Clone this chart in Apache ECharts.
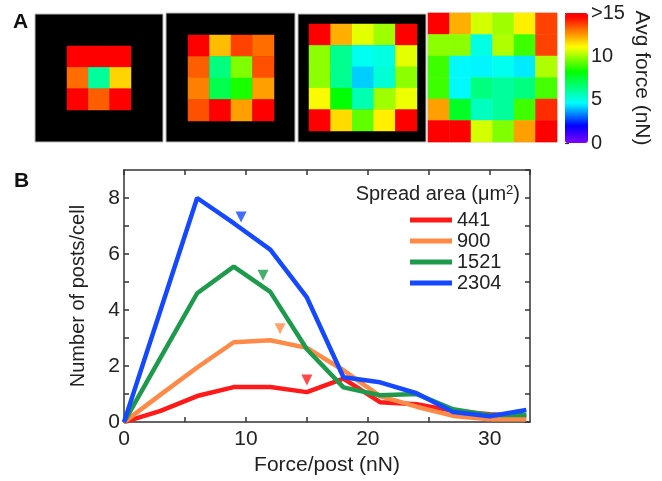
<!DOCTYPE html>
<html>
<head>
<meta charset="utf-8">
<script src="https://cdn.jsdelivr.net/npm/echarts@6/dist/echarts.min.js"></script>
<style>
html,body{margin:0;padding:0;background:#fff;}
#chart{width:662px;height:481px;}
</style>
</head>
<body>
<div id="chart"></div>
<script>
// panel A: average force per post (nN), rows listed top to bottom
var map441 = [
    [15, 15, 15],
    [13.1, 6.0, 11.7],
    [15, 13.3, 15]
];
var map900 = [
    [15, 12.0, 13.7, 13.1],
    [13.3, 6.4, 9.65, 13.5],
    [12.85, 7.1, 8.5, 12.4],
    [13.5, 15, 12.4, 15]
];
var map1521 = [
    [15, 12.2, 10.8, 10.0, 15],
    [9.8, 6.2, 4.8, 5.0, 10.8],
    [9.8, 6.2, 4.1, 5.2, 9.8],
    [11.1, 8.2, 5.7, 10.0, 10.9],
    [15, 11.6, 9.3, 11.3, 15]
];
var map2304 = [
    [15, 12.2, 10.6, 10.0, 11.3, 13.7],
    [9.8, 9.8, 5.0, 10.2, 8.9, 13.7],
    [8.9, 4.6, 4.5, 4.8, 4.4, 10.2],
    [8.9, 4.6, 6.4, 6.0, 6.4, 9.0],
    [12.4, 7.7, 5.5, 6.0, 8.9, 14.0],
    [15, 15, 10.6, 9.65, 12.4, 15]
];
var colorTicks = [0, 5, 10, 15];

// panel B: number of posts per cell vs force per post
var areaNames = ['441', '900', '1521', '2304'];
var forceX = [0, 3, 6, 9, 12, 15, 18, 21, 24, 27, 30, 33];
var posts441 = [0, 0.4, 0.93, 1.25, 1.25, 1.07, 1.55, 0.71, 0.64, 0.4, 0.28, 0.2];
var posts900 = [0, 0.98, 1.95, 2.85, 2.92, 2.65, 1.85, 0.93, 0.55, 0.22, 0.1, 0.1];
var posts1521 = [0, 2.3, 4.6, 5.55, 4.65, 2.6, 1.24, 0.96, 1.0, 0.46, 0.25, 0.25];
var posts2304 = [0, 4.0, 8.0, 7.1, 6.16, 4.45, 1.6, 1.42, 1.03, 0.36, 0.21, 0.43];
// mean force markers (triangles)
var meanForce = [15.0, 12.8, 11.4, 9.6];
var meanLevel = [1.5, 3.33, 5.24, 7.32];

var lineColors = ['#ff1a1a', '#ff8a47', '#1d9a4c', '#1449ff'];

var myChart = echarts.init(document.getElementById('chart'));
var font = 'Liberation Sans, Arial, sans-serif';

// jet-like colour scale of the colour bar
var barStops = [[0,[128,0,255]],[2,[0,0,255]],[4.6,[0,255,255]],[8.2,[0,255,0]],[11.1,[255,255,0]],[14.6,[255,0,0]],[15,[255,0,0]]];
function scaleColor(v){
    for (var i = 1; i < barStops.length; i++) {
        if (v <= barStops[i][0]) {
            var a = barStops[i-1], b = barStops[i];
            var t = (v - a[0]) / (b[0] - a[0]);
            var c = a[1].map(function(x, k){ return Math.round(x + (b[1][k] - x) * t); });
            return 'rgb(' + c.join(',') + ')';
        }
    }
    return 'rgb(255,0,0)';
}
var scaleColors = [];
for (var s = 0; s <= 60; s++) scaleColors.push(scaleColor(s * 0.25));

function heatData(m){
    var d = [];
    m.forEach(function(row, r){
        row.forEach(function(v, c){ d.push([c, r, v]); });
    });
    return d;
}
function cats(n){
    var a = [];
    for (var i = 0; i < n; i++) a.push(i);
    return a;
}

var grids = [
    {left: 35, top: 14, width: 128, height: 128, show: true, backgroundColor: '#000', borderColor: '#bbb', borderWidth: 1},
    {left: 67, top: 46, width: 64, height: 64},
    {left: 166, top: 13, width: 129, height: 129, show: true, backgroundColor: '#000', borderColor: '#bbb', borderWidth: 1},
    {left: 188, top: 35, width: 86, height: 86},
    {left: 298, top: 14, width: 128, height: 128, show: true, backgroundColor: '#000', borderColor: '#bbb', borderWidth: 1},
    {left: 309, top: 24, width: 108, height: 107},
    {left: 428, top: 13, width: 129, height: 129, show: true, borderColor: '#ccc', borderWidth: 1},
    {left: 565, top: 13, width: 23, height: 130},
    {left: 124, top: 170, width: 406, height: 253}
];

var maps = [map441, map900, map1521, map2304];
var heatGrid = [1, 3, 5, 6];
var xAxes = [], yAxes = [];
for (var g = 0; g < 8; g++) {
    var hi = heatGrid.indexOf(g);
    if (hi >= 0) {
        var n = maps[hi].length;
        xAxes.push({gridIndex: g, type: 'category', data: cats(n), show: false});
        yAxes.push({gridIndex: g, type: 'category', data: cats(n), inverse: true, show: false});
    } else {
        xAxes.push({gridIndex: g, type: 'value', min: 0, max: 1, show: false});
        yAxes.push({gridIndex: g, type: 'value', min: 0, max: 1, show: false});
    }
}
// colour bar labels
yAxes[7] = {
    gridIndex: 7, type: 'value', position: 'right', min: colorTicks[0], max: colorTicks[colorTicks.length - 1], interval: 5,
    axisLine: {show: false},
    axisTick: {show: true, length: 4, lineStyle: {color: '#333', width: 1.2}},
    splitLine: {show: false},
    axisLabel: {fontSize: 20, color: '#222', margin: 3, formatter: function(v){ return v === 15 ? '>15' : v; }},
    name: 'Avg force (nN)', nameLocation: 'middle', nameRotate: -90, nameGap: 43,
    nameTextStyle: {fontSize: 21, color: '#222'}
};

var axisLineStyle = {color: '#333', width: 1.5};
xAxes.push({
    gridIndex: 8, type: 'value', min: 0, max: 33.3, interval: 5,
    axisLine: {onZero: false, lineStyle: axisLineStyle},
    axisTick: {inside: true, length: 5, lineStyle: axisLineStyle},
    splitLine: {show: false},
    axisLabel: {fontSize: 21, color: '#222', margin: 7, showMaxLabel: false,
        formatter: function(v){ return v % 10 === 0 ? v : ''; }},
    name: 'Force/post (nN)', nameLocation: 'middle', nameGap: 32,
    nameTextStyle: {fontSize: 21, color: '#222'}
});
xAxes.push({
    gridIndex: 8, type: 'value', position: 'top', min: 0, max: 33.3, interval: 5,
    axisLine: {onZero: false, lineStyle: axisLineStyle},
    axisTick: {inside: true, length: 5, lineStyle: axisLineStyle},
    splitLine: {show: false}, axisLabel: {show: false}
});
yAxes.push({
    gridIndex: 8, type: 'value', min: 0, max: 9, interval: 1,
    axisLine: {onZero: false, lineStyle: axisLineStyle},
    axisTick: {inside: true, length: 5, lineStyle: axisLineStyle},
    splitLine: {show: false},
    axisLabel: {fontSize: 21, color: '#222', margin: 4, showMaxLabel: false,
        formatter: function(v){ return v % 2 === 0 ? v : ''; }},
    name: 'Number of posts/cell', nameLocation: 'middle', nameGap: 36,
    nameTextStyle: {fontSize: 20, color: '#222'}
});
yAxes.push({
    gridIndex: 8, type: 'value', position: 'right', min: 0, max: 9, interval: 1,
    axisLine: {onZero: false, lineStyle: axisLineStyle},
    axisTick: {inside: true, length: 5, lineStyle: axisLineStyle},
    splitLine: {show: false}, axisLabel: {show: false}
});

var series = [];
maps.forEach(function(m, i){
    series.push({
        type: 'heatmap',
        xAxisIndex: heatGrid[i], yAxisIndex: heatGrid[i],
        data: heatData(m),
        itemStyle: {borderWidth: 0},
        emphasis: {disabled: true}
    });
});
var postSeries = [posts441, posts900, posts1521, posts2304];
postSeries.forEach(function(p, i){
    series.push({
        name: areaNames[i],
        type: 'line',
        xAxisIndex: 8, yAxisIndex: 8,
        symbol: 'none',
        color: lineColors[i],
        lineStyle: {width: 4.5, color: lineColors[i]},
        data: forceX.map(function(x, k){ return [x, p[k]]; })
    });
});
series.push({
    type: 'scatter',
    xAxisIndex: 8, yAxisIndex: 8,
    symbol: 'triangle', symbolRotate: 180, symbolSize: 11,
    z: 5,
    data: meanForce.map(function(x, i){
        return {value: [x, meanLevel[i]], itemStyle: {color: lineColors[i]}};
    })
});

var option = {
    animation: false,
    textStyle: {fontFamily: font},
    title: [
        {text: 'A', left: 13, top: 12, padding: 0, textStyle: {fontSize: 21, fontWeight: 'bold', color: '#111'}},
        {text: 'B', left: 14, top: 171, padding: 0, textStyle: {fontSize: 21, fontWeight: 'bold', color: '#111'}},
        {text: '{a|Spread area (μm}{s|2}{a|)}', right: 142, top: 184, padding: 0,
            textStyle: {fontWeight: 'normal', rich: {
                a: {fontSize: 20, color: '#222', fontWeight: 'normal', fontFamily: font},
                s: {fontSize: 13, color: '#222', fontWeight: 'normal', verticalAlign: 'top', fontFamily: font}
            }}}
    ],
    legend: {
        data: areaNames,
        orient: 'vertical',
        left: 410, top: 210,
        padding: 0,
        icon: 'rect',
        itemWidth: 42, itemHeight: 5, itemGap: 1,
        textStyle: {fontSize: 20, color: '#222', lineHeight: 20}
    },
    visualMap: {
        type: 'continuous',
        min: 0, max: 15,
        seriesIndex: [0, 1, 2, 3],
        left: 565, top: 13,
        padding: 0,
        itemWidth: 23, itemHeight: 130,
        calculable: false,
        text: null,
        inRange: {color: scaleColors}
    },
    grid: grids,
    xAxis: xAxes,
    yAxis: yAxes,
    series: series
};
myChart.setOption(option);
</script>
</body>
</html>
